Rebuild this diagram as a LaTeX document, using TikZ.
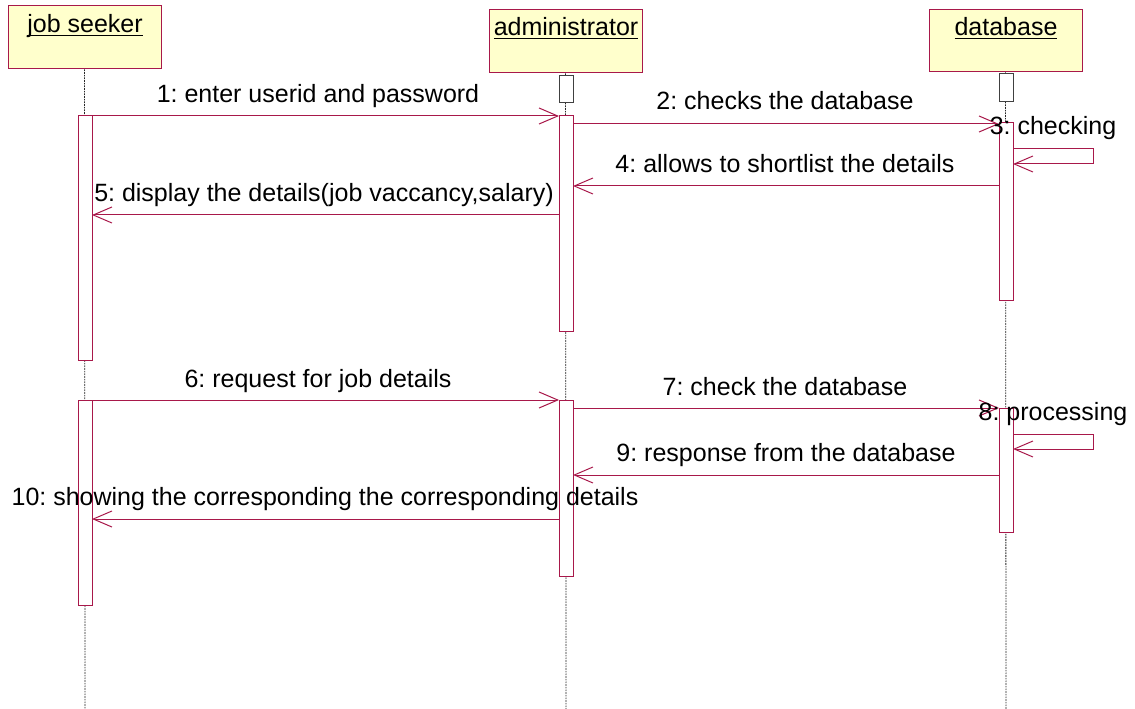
\documentclass[tikz,border=0pt]{standalone}
\usepackage{fontspec}
\setmainfont{Liberation Sans}
\usetikzlibrary{arrows.meta,fit}
\definecolor{umlred}{RGB}{168,24,74}
\definecolor{headfill}{RGB}{255,255,204}
\frenchspacing
\begin{document}
\begin{tikzpicture}[x=0.75pt,y=-0.75pt,
  font=\fontsize{18.75pt}{22pt}\selectfont\frenchspacing,
  head/.style={draw=umlred, fill=headfill, line width=0.75pt, inner sep=0pt},
  act/.style={draw=umlred, fill=white, line width=0.75pt, inner sep=0pt},
  focus/.style={draw=black!75, fill=white, line width=0.75pt, inner sep=0pt},
  life/.style={draw=black!85, line width=0.6pt, dash pattern=on 1.2pt off 0.8pt},
  msg/.style={draw=umlred, line width=0.75pt, -{Straight Barb[length=14pt,width=12pt,line width=0.75pt]}},
  lbl/.style={anchor=base, inner sep=0pt, text=black},
  ttl/.style={anchor=base, inner sep=0pt, text=black}
]
\useasboundingbox (0,0) rectangle (1135,709);

% heads
\node[head, fit={(8,6)(161,69)}] (js) {};
\node[head, fit={(489,10)(642,73)}] (ad) {};
\node[head, fit={(929,10)(1082,72)}] (db) {};
\node[ttl] (jst) at (85,33) {\underline{\smash{job seeker}}};
\node[ttl] (adt) at (566,36) {\underline{\smash{administrator}}};
\node[ttl] (dbt) at (1006,36) {\underline{\smash{database}}};

% lifeline ends
\coordinate (jsEnd) at (85,709);
\coordinate (adEnd) at (566,709);
\coordinate (dbEnd) at (1006,709);
\draw[life] (js.south) -- (jsEnd);
\draw[life] (ad.south) -- (adEnd);
\draw[life] (db.south) -- (dbEnd);

% focus boxes
\node[focus, fit={(559,76)(573,103)}] (adf) {};
\node[focus, fit={(999,74)(1013,102)}] (dbf) {};

% activations
\node[act, fit={(78,116)(92,360)}] (jsA1) {};
\node[act, fit={(78,400)(92,605)}] (jsA2) {};
\node[act, fit={(559,116)(573,331)}] (adA1) {};
\node[act, fit={(559,400)(573,576)}] (adA2) {};
\node[act, fit={(999,123)(1013,301)}] (dbA1) {};
\node[act, fit={(999,408)(1013,532)}] (dbA2) {};

% message end points
\coordinate (m1s) at (92,116);  \coordinate (m1e) at (559,116);
\coordinate (m2s) at (573,124); \coordinate (m2e) at (999,124);
\coordinate (m3s) at (1013,149); \coordinate (m3e) at (1013,164);
\coordinate (m4s) at (999,186); \coordinate (m4e) at (573,186);
\coordinate (m5s) at (559,215); \coordinate (m5e) at (92,215);
\coordinate (m6s) at (92,400);  \coordinate (m6e) at (559,400);
\coordinate (m7s) at (573,408); \coordinate (m7e) at (999,408);
\coordinate (m8s) at (1013,434); \coordinate (m8e) at (1013,449);
\coordinate (m9s) at (999,475); \coordinate (m9e) at (573,475);
\coordinate (m10s) at (559,519); \coordinate (m10e) at (92,519);

\draw[msg] (m1s) -- (m1e);
\draw[msg] (m2s) -- (m2e);
\draw[msg] (m3s) -- ++(80,0) -- ++(0,15) -- (m3e);
\draw[msg] (m4s) -- (m4e);
\draw[msg] (m5s) -- (m5e);
\draw[msg] (m6s) -- (m6e);
\draw[msg] (m7s) -- (m7e);
\draw[msg] (m8s) -- ++(80,0) -- ++(0,15) -- (m8e);
\draw[msg] (m9s) -- (m9e);
\draw[msg] (m10s) -- (m10e);

% labels
\node[lbl] (l1) at (318,103) {1: enter userid and password};
\node[lbl] (l2) at (785,110) {2: checks the database};
\node[lbl] (l3) at (1053,135) {3: checking};
\node[lbl] (l4) at (785,173) {4: allows to shortlist the details};
\node[lbl] (l5) at (324,202) {5: display the details(job vaccancy,salary)};
\node[lbl] (l6) at (318,387) {6: request for job details};
\node[lbl] (l7) at (785,395) {7: check the database};
\node[lbl] (l8) at (1053,420) {8: processing};
\node[lbl] (l9) at (786,461) {9: response from the database};
\node[lbl] (l10) at (325,505) {10: showing the corresponding the corresponding details};
\end{tikzpicture}
\end{document}
